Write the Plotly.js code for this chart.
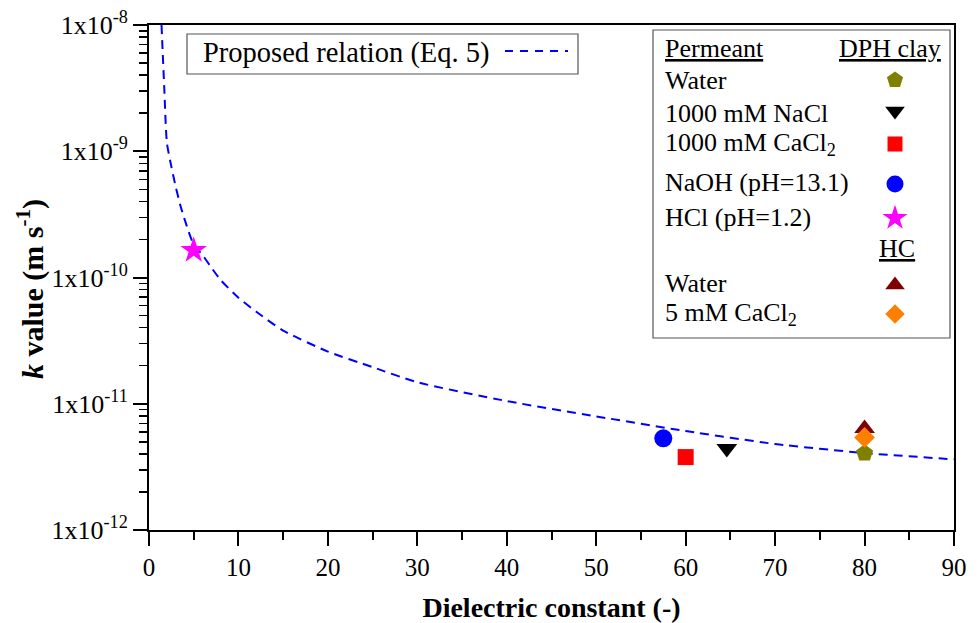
<!DOCTYPE html>
<html>
<head>
<meta charset="utf-8">
<script src="https://cdn.plot.ly/plotly-3.0.1.min.js"></script>
<style>html,body{margin:0;padding:0;background:#fff;}#chart{width:978px;height:623px;}</style>
</head>
<body>
<div id="chart"></div>
<script>
// ---- Data ----
// Proposed relation (Eq. 5)
const curveEps = [1.4, 1.7, 2.0, 2.5, 3.0, 3.5, 4.0, 5.0, 6.0, 7.0, 8.0, 10, 12, 15, 20, 25, 30, 40, 50, 60, 70, 80, 90];
const curveK = [1.0e-8, 3.24e-9, 1.17e-9, 7.55e-10, 5.19e-10, 3.74e-10, 2.86e-10, 1.82e-10, 1.50e-10, 1.19e-10, 9.57e-11,
                6.92e-11, 5.35e-11, 3.80e-11, 2.59e-11, 1.95e-11, 1.48e-11, 1.05e-11, 7.94e-12, 6.08e-12, 4.80e-12, 4.07e-12, 3.63e-12];

// DPH clay measurements
const dphNames = ["Water", "1000 mM NaCl", "1000 mM CaCl<sub>2</sub>", "NaOH (pH=13.1)", "HCl (pH=1.2)"];
const dphEps = [80, 64.6, 60.0, 57.5, 5.0];
const dphK = [4.05e-12, 4.43e-12, 3.78e-12, 5.32e-12, 1.64e-10];
const dphSymbols = ["pentagon", "triangle-down", "square", "circle", "star"];
const dphColors = ["#808000", "#000000", "#ff0000", "#0000ff", "#ff00ff"];

// HC measurements
const hcNames = ["Water", "5 mM CaCl<sub>2</sub>"];
const hcEps = [80, 80];
const hcK = [6.38e-12, 5.41e-12];
const hcSymbols = ["triangle-up", "diamond"];
const hcColors = ["#800000", "#ff8000"];

// Axis ticks
const yTickVals = [1e-12, 1e-11, 1e-10, 1e-9, 1e-8];
const yTickText = ["1x10<sup>-12</sup>", "1x10<sup>-11</sup>", "1x10<sup>-10</sup>", "1x10<sup>-9</sup>", "1x10<sup>-8</sup>"];
const xTickVals = [0, 10, 20, 30, 40, 50, 60, 70, 80, 90];

const symbolSize = {"pentagon": 18, "triangle-down": 18, "square": 16, "circle": 18, "star": 20, "triangle-up": 18, "diamond": 16};

// ---- Layout geometry (pixels of plot area) ----
const W = 978, H = 623;
const L = 149, R = 954, T = 25, B = 530;
const px2x = p => (p - L) / (R - L);
const px2y = p => (B - p) / (B - T);

const FONT = "Liberation Serif";

const traces = [];
traces.push({
  x: curveEps, y: curveK, type: "scatter", mode: "lines",
  line: {color: "#0000ff", width: 2, dash: "9px,6px", shape: "spline", smoothing: 0.6},
  showlegend: false, hoverinfo: "skip"
});
const allNames = dphNames.concat(hcNames);
const allEps = dphEps.concat(hcEps);
const allK = dphK.concat(hcK);
const allSym = dphSymbols.concat(hcSymbols);
const allCol = dphColors.concat(hcColors);
for (let i = 0; i < allNames.length; i++) {
  traces.push({
    x: [allEps[i]], y: [allK[i]], type: "scatter", mode: "markers", name: allNames[i],
    marker: {symbol: allSym[i], size: symbolSize[allSym[i]], color: allCol[i], line: {width: 0}},
    showlegend: false
  });
}

// Legend key markers (legend layout, on an overlay paper-like axis)
const keyRowsPx = [80, 111, 144, 184, 218, 285, 314];
const keyX = 895;
for (let i = 0; i < allNames.length; i++) {
  traces.push({
    x: [px2x(keyX)], y: [px2y(keyRowsPx[i])], xaxis: "x2", yaxis: "y2",
    type: "scatter", mode: "markers",
    marker: {symbol: allSym[i], size: symbolSize[allSym[i]] - 1, color: allCol[i], line: {width: 0}},
    showlegend: false, hoverinfo: "skip"
  });
}

const ann = [];
const textRowsPx = [80, 113, 144, 183, 217, 283, 314];
for (let i = 0; i < allNames.length; i++) {
  ann.push({xref: "paper", yref: "paper", x: px2x(663), y: px2y(textRowsPx[i]), xanchor: "left", yanchor: "middle",
    text: allNames[i], showarrow: false, font: {family: FONT, size: 26, color: "#000"}});
}
ann.push({xref: "paper", yref: "paper", x: px2x(663), y: px2y(48), xanchor: "left", yanchor: "middle",
  text: "<u>Permeant</u>", showarrow: false, font: {family: FONT, size: 26, color: "#000"}});
ann.push({xref: "paper", yref: "paper", x: px2x(943), y: px2y(48), xanchor: "right", yanchor: "middle",
  text: "<u>DPH clay</u>", showarrow: false, font: {family: FONT, size: 26, color: "#000"}});
ann.push({xref: "paper", yref: "paper", x: px2x(897), y: px2y(249), xanchor: "center", yanchor: "middle",
  text: "<u>HC</u>", showarrow: false, font: {family: FONT, size: 26, color: "#000"}});
ann.push({xref: "paper", yref: "paper", x: px2x(201), y: px2y(53), xanchor: "left", yanchor: "middle",
  text: "Proposed relation (Eq. 5)", showarrow: false, font: {family: FONT, size: 28.5, color: "#000"}});
// y-axis title placed as a rotated annotation
ann.push({xref: "paper", yref: "paper", x: px2x(30), y: px2y(289), xanchor: "center", yanchor: "middle", textangle: -90,
  text: "<b><i>k</i> value (m s<sup>-1</sup>)</b>", showarrow: false, font: {family: FONT, size: 30, color: "#000"}});

const shapes = [
  {type: "rect", xref: "paper", yref: "paper", x0: px2x(187), x1: px2x(578), y0: px2y(74), y1: px2y(34),
   line: {color: "#555", width: 1.2}, fillcolor: "rgba(0,0,0,0)"},
  {type: "line", xref: "paper", yref: "paper", x0: px2x(505), x1: px2x(568), y0: px2y(51), y1: px2y(51),
   line: {color: "#0000ff", width: 2, dash: "8px,7px"}},
  {type: "rect", xref: "paper", yref: "paper", x0: px2x(653), x1: px2x(950), y0: px2y(338), y1: px2y(30),
   line: {color: "#555", width: 1.2}, fillcolor: "rgba(0,0,0,0)"}
];

const minorY = [];
for (let d = -12; d < -8; d++) for (let m = 2; m <= 9; m++) minorY.push(m * Math.pow(10, d));

const layout = {
  width: W, height: H,
  margin: {l: L, r: W - R, t: T, b: H - B, pad: 0},
  paper_bgcolor: "#fff", plot_bgcolor: "#fff",
  font: {family: FONT, size: 24, color: "#000"},
  showlegend: false,
  xaxis: {
    range: [0, 90], tickvals: xTickVals, ticks: "outside", ticklen: 14, tickwidth: 2, tickcolor: "#000",
    showline: true, linecolor: "#000", linewidth: 2, mirror: true, showgrid: false, zeroline: false,
    tickfont: {family: FONT, size: 25, color: "#000"},
    minor: {tickvals: [5, 15, 25, 35, 45, 55, 65, 75, 85], ticks: "outside", ticklen: 8, tickwidth: 2, tickcolor: "#000", showgrid: false},
    title: {text: "<b>Dielectric constant (-)</b>", font: {family: FONT, size: 28, color: "#000"}, standoff: 22},
    automargin: false
  },
  yaxis: {
    type: "log", range: [-12, -8], tickvals: yTickVals, ticktext: yTickText,
    ticks: "outside", ticklen: 14, tickwidth: 2, tickcolor: "#000",
    showline: true, linecolor: "#000", linewidth: 2, mirror: true, showgrid: false, zeroline: false,
    tickfont: {family: FONT, size: 26, color: "#000"},
    minor: {tickvals: minorY, ticks: "outside", ticklen: 8, tickwidth: 1.5, tickcolor: "#000", showgrid: false},
    automargin: false
  },
  xaxis2: {domain: [0, 1], range: [0, 1], visible: false, overlaying: "x", anchor: "y2", fixedrange: true},
  yaxis2: {domain: [0, 1], range: [0, 1], visible: false, overlaying: "y", anchor: "x2", fixedrange: true},
  annotations: ann,
  shapes: shapes
};

Plotly.newPlot("chart", traces, layout, {displayModeBar: false, staticPlot: true});
</script>
</body>
</html>
